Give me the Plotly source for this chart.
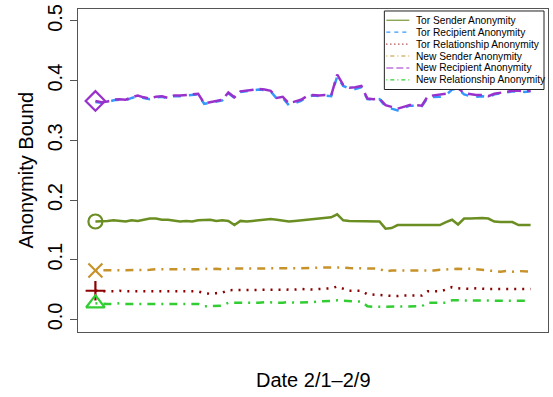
import plotly.graph_objects as go

# Hours since 2/1 00:00, sampled every 3 hours through 2/10 00:00
hours = list(range(0, 217, 3))

tor_sender = [
    0.164, 0.164, 0.165, 0.166, 0.165, 0.164, 0.166, 0.165, 0.167, 0.169,
    0.169, 0.167, 0.167, 0.165, 0.164, 0.165, 0.164, 0.166, 0.167, 0.167,
    0.165, 0.166, 0.165, 0.158, 0.165, 0.164, 0.165, 0.166, 0.167, 0.168,
    0.167, 0.165, 0.164, 0.165, 0.166, 0.167, 0.168, 0.169, 0.170, 0.171,
    0.176, 0.166, 0.165, 0.165, 0.165, 0.165, 0.165, 0.164, 0.152, 0.153,
    0.158, 0.158, 0.158, 0.158, 0.158, 0.158, 0.158, 0.158, 0.163, 0.167,
    0.159, 0.169, 0.169, 0.170, 0.170, 0.169, 0.164, 0.163, 0.163, 0.163,
    0.158, 0.158, 0.158,
]
tor_recipient = [
    0.364, 0.363, 0.364, 0.367, 0.368, 0.367, 0.371, 0.374, 0.371, 0.369,
    0.372, 0.373, 0.370, 0.374, 0.374, 0.375, 0.377, 0.377, 0.361, 0.363,
    0.365, 0.367, 0.379, 0.371, 0.381, 0.382, 0.383, 0.385, 0.384, 0.382,
    0.370, 0.371, 0.359, 0.362, 0.366, 0.373, 0.375, 0.374, 0.375, 0.374,
    0.407, 0.391, 0.387, 0.386, 0.389, 0.369, 0.368, 0.369, 0.357, 0.353,
    0.350, 0.354, 0.358, 0.358, 0.357, 0.372, 0.373, 0.373, 0.376, 0.385,
    0.386, 0.377, 0.374, 0.373, 0.374, 0.372, 0.377, 0.379, 0.381, 0.382,
    0.382, 0.381, 0.382,
]
tor_relationship = [
    0.048, 0.047, 0.047, 0.047, 0.048, 0.047, 0.047, 0.047, 0.048, 0.047,
    0.047, 0.047, 0.048, 0.047, 0.047, 0.047, 0.048, 0.047, 0.044, 0.043,
    0.044, 0.045, 0.049, 0.049, 0.050, 0.049, 0.050, 0.050, 0.049, 0.050,
    0.050, 0.049, 0.050, 0.050, 0.051, 0.050, 0.050, 0.051, 0.051, 0.052,
    0.055, 0.052, 0.048, 0.048, 0.048, 0.042, 0.042, 0.041, 0.040, 0.039,
    0.039, 0.040, 0.040, 0.040, 0.040, 0.047, 0.047, 0.047, 0.050, 0.054,
    0.052, 0.051, 0.051, 0.052, 0.051, 0.051, 0.051, 0.051, 0.051, 0.051,
    0.050, 0.051, 0.051,
]
new_sender = [
    0.082, 0.082, 0.083, 0.082, 0.082, 0.083, 0.083, 0.082, 0.083, 0.083,
    0.084, 0.084, 0.084, 0.083, 0.084, 0.084, 0.084, 0.084, 0.085, 0.084,
    0.085, 0.084, 0.085, 0.085, 0.085, 0.086, 0.086, 0.086, 0.085, 0.086,
    0.086, 0.085, 0.086, 0.086, 0.085, 0.086, 0.086, 0.087, 0.087, 0.088,
    0.088, 0.087, 0.086, 0.086, 0.085, 0.086, 0.086, 0.085, 0.080, 0.082,
    0.082, 0.082, 0.081, 0.082, 0.082, 0.082, 0.082, 0.083, 0.084, 0.085,
    0.085, 0.084, 0.085, 0.084, 0.083, 0.081, 0.081, 0.080, 0.081, 0.080,
    0.081, 0.080, 0.080,
]
new_recipient = [
    0.366, 0.364, 0.365, 0.368, 0.369, 0.368, 0.372, 0.375, 0.372, 0.370,
    0.373, 0.374, 0.371, 0.375, 0.375, 0.376, 0.378, 0.378, 0.362, 0.364,
    0.366, 0.368, 0.380, 0.372, 0.382, 0.383, 0.384, 0.386, 0.385, 0.383,
    0.371, 0.373, 0.362, 0.365, 0.368, 0.374, 0.376, 0.375, 0.376, 0.375,
    0.410, 0.393, 0.388, 0.389, 0.391, 0.370, 0.369, 0.370, 0.359, 0.356,
    0.353, 0.356, 0.359, 0.359, 0.358, 0.374, 0.375, 0.376, 0.378, 0.387,
    0.387, 0.379, 0.377, 0.376, 0.376, 0.374, 0.378, 0.380, 0.382, 0.383,
    0.383, 0.382, 0.383,
]
new_relationship = [
    0.027, 0.026, 0.026, 0.026, 0.027, 0.026, 0.026, 0.026, 0.026, 0.027,
    0.026, 0.026, 0.026, 0.027, 0.026, 0.026, 0.026, 0.026, 0.022, 0.022,
    0.022, 0.023, 0.028, 0.028, 0.027, 0.028, 0.028, 0.028, 0.029, 0.028,
    0.028, 0.028, 0.029, 0.028, 0.028, 0.029, 0.029, 0.030, 0.030, 0.031,
    0.032, 0.031, 0.030, 0.030, 0.030, 0.022, 0.021, 0.021, 0.021, 0.022,
    0.021, 0.021, 0.021, 0.022, 0.022, 0.028, 0.028, 0.028, 0.028, 0.032,
    0.032, 0.032, 0.031, 0.032, 0.032, 0.032, 0.031, 0.032, 0.032, 0.031,
    0.032, 0.031, 0.031,
]

series_names = [
    "Tor Sender Anonymity",
    "Tor Recipient Anonymity",
    "Tor Relationship Anonymity",
    "New Sender Anonymity",
    "New Recipient Anonymity",
    "New Relationship Anonymity",
]
y_ticks = [0.0, 0.1, 0.2, 0.3, 0.4, 0.5]
y_tick_labels = ["0.0", "0.1", "0.2", "0.3", "0.4", "0.5"]

series_values = [tor_sender, tor_recipient, tor_relationship,
                 new_sender, new_recipient, new_relationship]

colors = ["#6B8E23", "#3399FF", "#8B0000", "#C8922A", "#9932CC", "#32CD32"]
# dash patterns for the plotted lines (lwd 2) and for the key samples (lwd 1)
line_dash = ["solid", "8px,8px", "2px,6px", "2px,6px,8px,6px", "14px,6px", "2px,6px,8px,6px"]
key_dash = ["solid", "4px,4px", "1px,3px", "1px,3px,4px,3px", "7px,3px", "1px,3px,4px,3px"]
start_symbols = ["circle-open", None, "cross-thin-open", "x-thin-open",
                 "diamond-open", "triangle-up-open"]
start_sizes = [14, 0, 14, 14, 15, 16]

FONT = "Liberation Sans, Arial, Helvetica, sans-serif"

fig = go.Figure()
for name, vals, col, dash in zip(series_names, series_values, colors, line_dash):
    fig.add_trace(go.Scatter(
        x=hours, y=vals, mode="lines", name=name,
        line=dict(color=col, width=2.5, dash=dash),
        showlegend=False, hoverinfo="skip",
    ))
# Symbol marking the first observation of each series
for vals, col, sym, sz in zip(series_values, colors, start_symbols, start_sizes):
    if sym is None:
        continue
    fig.add_trace(go.Scatter(
        x=[hours[0]], y=[vals[0]], mode="markers",
        marker=dict(symbol=sym, size=sz, color=col,
                    line=dict(color=col, width=2.2)),
        showlegend=False, hoverinfo="skip",
    ))

# Plot frame geometry in pixels
W, H = 553, 397
L, R, T, B = 78, 4, 7, 65
pw, ph = W - L - R, H - T - B


def px_x(p):
    return (p - L) / pw


def px_y(p):
    return (H - B - p) / ph


shapes = []
annotations = []
# Key box
shapes.append(dict(type="rect", xref="paper", yref="paper",
                   x0=px_x(385), x1=px_x(545), y0=px_y(88), y1=px_y(9),
                   line=dict(color="#222222", width=1), fillcolor="white"))
for k, (name, col, dash) in enumerate(zip(series_names, colors, key_dash)):
    yy = 18.3 + 12 * k
    shapes.append(dict(type="line", xref="paper", yref="paper",
                       x0=px_x(387), x1=px_x(410), y0=px_y(yy), y1=px_y(yy),
                       line=dict(color=col, width=1.1, dash=dash)))
    annotations.append(dict(text=name, xref="paper", yref="paper",
                            x=px_x(415), y=px_y(yy), xanchor="left", yanchor="middle",
                            showarrow=False, font=dict(family=FONT, size=10.2, color="black")))

annotations.append(dict(text="Date 2/1\u20132/9", xref="paper", yref="paper",
                        x=0.5, y=px_y(380), xanchor="center", yanchor="middle",
                        showarrow=False, font=dict(family=FONT, size=20, color="black")))
annotations.append(dict(text="Anonymity Bound", xref="paper", yref="paper",
                        x=px_x(25), y=0.5, xanchor="center", yanchor="middle",
                        textangle=-90, showarrow=False,
                        font=dict(family=FONT, size=20, color="black")))

span = hours[-1] - hours[0]
fig.update_layout(
    width=W, height=H,
    margin=dict(l=L, r=R, t=T, b=B, pad=0),
    paper_bgcolor="white", plot_bgcolor="white",
    font=dict(family=FONT, size=20, color="black"),
    xaxis=dict(range=[hours[0] - 0.04 * span, hours[-1] + 0.04 * span],
               showgrid=False, zeroline=False, showticklabels=False, ticks="",
               showline=True, mirror=True, linecolor="#555555", linewidth=1),
    yaxis=dict(range=[-0.0211, 0.52], tickvals=y_ticks, ticktext=y_tick_labels,
               tickangle=-90, ticks="outside", ticklen=7, tickwidth=1,
               tickcolor="#555555", showgrid=False, zeroline=False,
               showline=True, mirror=True, linecolor="#555555", linewidth=1,
               tickfont=dict(family=FONT, size=20, color="black")),
    shapes=shapes,
    annotations=annotations,
)

fig.write_html("out.html")
